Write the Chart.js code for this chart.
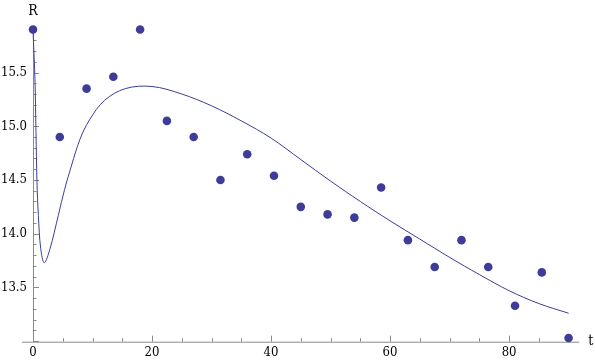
<!DOCTYPE html>
<html>
<head>
<meta charset="utf-8">
<script src="https://cdn.jsdelivr.net/npm/chart.js@4"></script>
<style>
  html, body { margin: 0; padding: 0; background: #fff; }
  #wrap { width: 595px; height: 361px; }
</style>
</head>
<body>
<div id="wrap"><canvas id="fit-chart"></canvas></div>
<script>
// measured points
const tValues = [0, 4.5, 9, 13.5, 18, 22.5, 27, 31.5, 36, 40.5, 45, 49.5, 54, 58.5, 63, 67.5, 72, 76.5, 81, 85.5, 90];
const rValues = [15.9, 14.9, 15.35, 15.46, 15.9, 15.05, 14.9, 14.5, 14.74, 14.54, 14.25, 14.18, 14.15, 14.43, 13.94, 13.69, 13.94, 13.69, 13.33, 13.64, 13.03];

// fitted curve
const curveT = [0, 0.34, 0.5, 0.67, 0.9, 1.3, 1.9, 2.86, 4.25, 5.3, 6.5, 7.9, 9.5, 12, 15.5, 20, 25, 30, 35, 40, 45, 50, 55, 60, 65, 70, 75, 80, 85, 90];
const curveR = [15.9, 15.41, 14.95, 14.48, 14.17, 13.86, 13.73, 13.86, 14.17, 14.41, 14.64, 14.88, 15.06, 15.24, 15.35, 15.37, 15.3, 15.19, 15.05, 14.89, 14.69, 14.49, 14.3, 14.12, 13.95, 13.78, 13.62, 13.47, 13.35, 13.26];

const xMajor = [0, 20, 40, 60, 80];
const yMajor = [13.5, 14.0, 14.5, 15.0, 15.5];

const plotColor = "#3d3d99";
const axisColor = "#8a8a8a";
const serif = "'DejaVu Serif Condensed', 'DejaVu Serif', serif";

const points = tValues.map((t, i) => ({ x: t, y: rValues[i] }));
const curve = curveT.map((t, i) => ({ x: t, y: curveR[i] }));

// axes drawn Mathematica style: ticks pointing inward, axis labels at the ends
const axesPlugin = {
  id: "axes",
  beforeDatasetsDraw(chart) {
    const { ctx, chartArea, scales } = chart;
    const xs = scales.x, ys = scales.y;
    ctx.save();
    ctx.strokeStyle = axisColor;
    ctx.lineWidth = 1;
    ctx.beginPath();
    ctx.moveTo(chartArea.left - 11, chartArea.bottom + 0.5);
    ctx.lineTo(chartArea.right, chartArea.bottom + 0.5);
    ctx.moveTo(chartArea.left + 0.5, chartArea.top);
    ctx.lineTo(chartArea.left + 0.5, chartArea.bottom);
    for (let v = 5; v <= 90; v += 5) {
      const px = Math.round(xs.getPixelForValue(v)) + 0.5;
      const len = v % 20 === 0 ? 6 : 3.5;
      ctx.moveTo(px, chartArea.bottom);
      ctx.lineTo(px, chartArea.bottom - len);
    }
    for (let k = 130; k <= 159; k++) {
      const py = Math.round(ys.getPixelForValue(k / 10)) + 0.5;
      const len = k % 5 === 0 ? 6 : 3.5;
      ctx.moveTo(chartArea.left, py);
      ctx.lineTo(chartArea.left + len, py);
    }
    ctx.stroke();
    ctx.fillStyle = "#000";
    ctx.font = "14px " + serif;
    ctx.textBaseline = "middle";
    ctx.textAlign = "center";
    ctx.fillText("R", chartArea.left, 11);
    ctx.textAlign = "left";
    ctx.fillText("t", chartArea.right + 9, chartArea.bottom);
    ctx.restore();
  },
};

new Chart(document.getElementById("fit-chart"), {
  type: "scatter",
  data: {
    datasets: [
      {
        label: "fit",
        data: curve,
        showLine: true,
        borderColor: plotColor,
        borderWidth: 1,
        pointRadius: 0,
        tension: 0.35,
        clip: false,
      },
      {
        label: "R",
        data: points,
        backgroundColor: plotColor,
        borderWidth: 0,
        pointRadius: 4.3,
        clip: false,
      },
    ],
  },
  options: {
    responsive: true,
    maintainAspectRatio: false,
    animation: false,
    layout: { padding: { left: 0, top: 29, right: 15.7, bottom: 0 } },
    plugins: {
      legend: { display: false },
      tooltip: { enabled: false },
    },
    scales: {
      x: {
        type: "linear",
        min: 0,
        max: 91.8,
        grid: { display: false, drawTicks: false },
        border: { display: false },
        afterBuildTicks: (scale) => { scale.ticks = xMajor.map((v) => ({ value: v })); },
        afterFit: (scale) => { scale.height = 19.3; },
        ticks: {
          padding: 3,
          color: "#000",
          maxRotation: 0,
          font: { family: serif, size: 13 },
          callback: (v) => String(v),
        },
      },
      y: {
        type: "linear",
        min: 12.995,
        max: 15.905,
        grid: { display: false, drawTicks: false },
        border: { display: false },
        afterBuildTicks: (scale) => { scale.ticks = yMajor.map((v) => ({ value: v })); },
        afterFit: (scale) => { scale.width = 33; },
        ticks: {
          padding: 6,
          color: "#000",
          font: { family: serif, size: 13 },
          callback: (v) => Number(v).toFixed(1),
        },
      },
    },
  },
  plugins: [axesPlugin],
});
</script>
</body>
</html>
